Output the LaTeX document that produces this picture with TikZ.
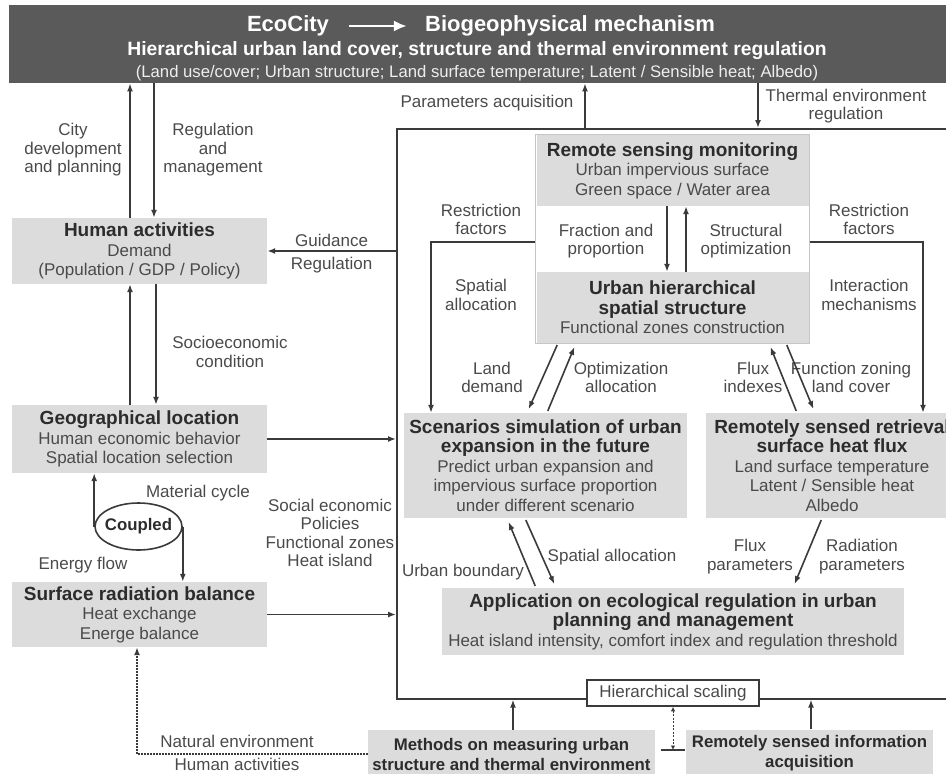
\documentclass[tikz,border=0pt]{standalone}
\usepackage{fontspec}
\setmainfont{Liberation Sans}
\usepackage{tikz}
\usetikzlibrary{arrows.meta,shapes.geometric,fit,calc}
\definecolor{ecoDark}{HTML}{5A5A5A}
\definecolor{ecoFill}{HTML}{DCDCDC}
\definecolor{ecoInk}{HTML}{2C2C2C}
\definecolor{ecoSoft}{HTML}{4A4A4A}
\definecolor{ecoLine}{HTML}{3A3A3A}
\definecolor{ecoEdge}{HTML}{C6C6C6}
\newcommand\ecoHead{\fontsize{19}{22}\selectfont\bfseries\color{ecoInk}}
\newcommand\ecoBody{\fontsize{17}{19.5}\selectfont\mdseries\color{ecoSoft}}
\newcommand\ecoFoot{\fontsize{16.8}{20}\selectfont\bfseries\color{ecoInk}}
\tikzset{
  ecoBox/.style={
    fill=ecoFill,
    draw=none,
    align=center,
    inner sep=0pt,
    font=\ecoBody
  },
  ecoLabel/.style={
    align=center,
    inner sep=1pt,
    text=ecoSoft,
    font=\fontsize{17}{18.5}\selectfont
  },
  ecoBanner/.style={
    text=white,
    inner sep=0pt,
    font=\fontsize{19.3}{21}\selectfont\bfseries
  },
  ecoArrow/.style={
    -{Latex[length=8pt,width=6pt]},
    line width=1.6pt,
    draw=ecoLine
  },
  ecoDiag/.style={
    ecoArrow,
    shorten <=2pt,
    shorten >=4pt
  },
  ecoDotted/.style={
    -{Latex[length=8pt,width=6pt]},
    line width=2.4pt,
    draw=ecoLine,
    dash pattern=on 1.5pt off 1.5pt
  },
  ecoScale/.style={
    {Latex[length=4.5pt,width=4.5pt]}-{Latex[length=4.5pt,width=4.5pt]},
    line width=1pt,
    draw=ecoLine,
    dash pattern=on 2pt off 1.5pt
  },
  ecoBannerArrow/.style={
    -{Latex[length=13pt,width=11pt]},
    line width=2.6pt,
    draw=white
  }
}

\begin{document}
\begin{tikzpicture}[x=1pt,y=-1pt]
  \useasboundingbox (0,0) rectangle (946,774);

  \node[fill=ecoDark, minimum width=960pt, minimum height=78pt, inner sep=0pt, anchor=north west] (banner) at (9,5) {};
  \node[ecoBanner, font=\fontsize{22}{24}\selectfont\bfseries] (ecoCity) at (288,26) {EcoCity};
  \node[ecoBanner, font=\fontsize{22}{24}\selectfont\bfseries] (bioMech) at (570,26) {Biogeophysical mechanism};
  \node[ecoBanner] (bannerSub) at (477,51) {Hierarchical urban land cover, structure and thermal environment regulation};
  \node[ecoBanner, font=\fontsize{16.7}{18}\selectfont, text=white!90!ecoDark] (bannerNote) at (477,73) {(Land use/cover; Urban structure; Land surface temperature; Latent / Sensible heat; Albedo)};

  \node[draw=ecoLine, line width=1.6pt, minimum width=580pt, minimum height=570pt, inner sep=0pt, anchor=north west] (frame) at (396,128) {};

  \node[ecoBox, minimum width=255pt, minimum height=66pt] (human) at (139.5,251) {{\ecoHead Human activities}\\Demand\\(Population / GDP / Policy)};
  \node[ecoBox, minimum width=255pt, minimum height=68pt] (geo) at (139.5,439) {{\ecoHead Geographical location}\\Human economic behavior\\Spatial location selection};
  \node[ecoBox, minimum width=255pt, minimum height=65pt] (surface) at (139.5,614.5) {{\ecoHead Surface radiation balance}\\Heat exchange\\Energe balance};
  \node[ellipse, draw=ecoLine, line width=1.6pt, minimum width=87pt, minimum height=47pt, inner xsep=-6pt, inner ysep=0pt, font=\ecoFoot] (coupled) at (138.5,526.5) {Coupled};

  \node[ecoBox, minimum width=272pt, minimum height=71pt] (rsm) at (672.5,170.5) {{\ecoHead Remote sensing monitoring}\\Urban impervious surface\\Green space / Water area};
  \node[ecoBox, minimum width=272pt, minimum height=71pt] (uhs) at (672.5,307.5) {{\ecoHead Urban hierarchical}\\{\ecoHead spatial structure}\\Functional zones construction};
  \node[fit=(rsm)(uhs), draw=ecoEdge, line width=1pt, inner sep=0.5pt] (rsmFrame) {};

  \node[ecoBox, minimum width=283pt, minimum height=105pt] (scen) at (545.5,465.5) {{\ecoHead Scenarios simulation of urban}\\{\ecoHead expansion in the future}\\Predict urban expansion and\\impervious surface proportion\\under different scenario};
  \node[ecoBox, minimum width=252pt, minimum height=105pt] (retr) at (832,465.5) {{\ecoHead Remotely sensed retrieval}\\{\ecoHead surface heat flux}\\Land surface temperature\\Latent / Sensible heat\\Albedo};
  \node[ecoBox, minimum width=462pt, minimum height=67pt] (app) at (673,621.5) {{\ecoHead Application on ecological regulation in urban}\\{\ecoHead planning and management}\\Heat island intensity, comfort index and regulation threshold};

  \node[draw=ecoLine, fill=white, line width=1.6pt, minimum width=172pt, minimum height=26pt, inner sep=0pt, text=ecoSoft, font=\fontsize{17}{19}\selectfont] (scaling) at (673,693) {Hierarchical scaling};
  \node[ecoBox, minimum width=287pt, minimum height=48pt, font=\ecoFoot] (methods) at (511.5,754) {Methods on measuring urban\\structure and thermal environment};
  \node[ecoBox, minimum width=247pt, minimum height=48pt, font=\ecoFoot] (rinfo) at (809.5,753.5) {Remotely sensed information\\acquisition};
  \coordinate (tbar) at (673,750);

  \node[ecoLabel] (cityLbl) at (73,150) {City\\development\\and planning};
  \node[ecoLabel] (mgmtLbl) at (213,150) {Regulation\\and\\management};
  \node[ecoLabel] (socioLbl) at (230,352) {Socioeconomic\\condition};
  \node[ecoLabel] (materialLbl) at (198,493) {Material cycle};
  \node[ecoLabel] (energyLbl) at (83,565) {Energy flow};
  \node[ecoLabel] (socialLbl) at (330,533) {Social economic\\Policies\\Functional zones\\Heat island};
  \node[ecoLabel] (naturalLbl) at (237,741) {Natural environment};
  \node[ecoLabel] (activLbl) at (237,764) {Human activities};
  \node[ecoLabel] (paramLbl) at (487,103) {Parameters acquisition};
  \node[ecoLabel] (thermalLbl) at (846,106) {Thermal environment\\regulation};
  \node[ecoLabel] (restrLLbl) at (481,219.5) {Restriction\\factors};
  \node[ecoLabel] (restrRLbl) at (869,219.5) {Restriction\\factors};
  \node[ecoLabel] (fracLbl) at (606,241) {Fraction and\\proportion};
  \node[ecoLabel] (structLbl) at (746,241) {Structural\\optimization};
  \node[ecoLabel] (spatialLbl) at (481,295) {Spatial\\allocation};
  \node[ecoLabel] (interLbl) at (869,295) {Interaction\\mechanisms};
  \node[ecoLabel] (landLbl) at (492,377.5) {Land\\demand};
  \node[ecoLabel] (optLbl) at (621,377.5) {Optimization\\allocation};
  \node[ecoLabel] (fluxIdxLbl) at (753,377.5) {Flux\\indexes};
  \node[ecoLabel] (zoningLbl) at (851,377.5) {Function zoning\\land cover};
  \node[ecoLabel] (boundLbl) at (463,572) {Urban boundary};
  \node[ecoLabel] (allocLbl) at (612,557) {Spatial allocation};
  \node[ecoLabel] (fluxParLbl) at (750,556.5) {Flux\\parameters};
  \node[ecoLabel] (radParLbl) at (862,556.5) {Radiation\\parameters};

  \draw[ecoBannerArrow, shorten <=20pt, shorten >=18pt] (ecoCity) -- (bioMech);

  \draw[ecoArrow] (human.north -| 130,0) -- (banner.south -| 130,0);
  \draw[ecoArrow] (banner.south -| 154,0) -- (human.north -| 154,0);
  \draw[ecoArrow] (geo.north -| 130,0) -- (human.south -| 130,0);
  \draw[ecoArrow] (human.south -| 156,0) -- (geo.north -| 156,0);
  \draw[ecoArrow] (human.east -| frame.west) -- (human.east)
    node[ecoLabel, midway, above=3pt] (guideLbl) {Guidance}
    node[ecoLabel, midway, below=4pt] (regLbl) {Regulation};
  \draw[ecoArrow] (geo.east) -- (geo.east -| frame.west);
  \draw[ecoArrow] (surface.east) -- (surface.east -| frame.west);
  \draw[ecoArrow] (coupled.west) -- (coupled.west |- geo.south);
  \draw[ecoArrow] (coupled.east) -- (coupled.east |- surface.north);
  \draw[ecoDotted] (methods.west) -| ([xshift=-2.5pt]surface.south);

  \draw[ecoArrow] (frame.north -| 585,0) -- (banner.south -| 585,0);
  \draw[ecoArrow] (banner.south -| 758,0) -- (frame.north -| 758,0);
  \draw[ecoArrow] (rsm.south -| 667,0) -- (uhs.north -| 667,0);
  \draw[ecoArrow] (uhs.north -| 686,0) -- (rsm.south -| 686,0);
  \draw[ecoArrow] (rsmFrame.west |- 0,242) -| (431,0 |- scen.north);
  \draw[ecoArrow] (rsmFrame.east |- 0,242) -| (923,0 |- retr.north);

  \draw[ecoDiag] (uhs.south -| 558,0) -- (scen.north -| 527,0);
  \draw[ecoDiag] (scen.north -| 547,0) -- (uhs.south -| 576,0);
  \draw[ecoDiag] (retr.north -| 797,0) -- (uhs.south -| 769,0);
  \draw[ecoDiag] (uhs.south -| 786,0) -- (retr.north -| 815,0);
  \draw[ecoDiag] (app.north -| 536,0) -- (scen.south -| 507,0);
  \draw[ecoDiag] (scen.south -| 525,0) -- (app.north -| 556,0);
  \draw[ecoDiag] (retr.south -| 822,0) -- (app.north -| 793,0);

  \draw[ecoArrow] (methods.north -| 513,0) -- (frame.south -| 513,0);
  \draw[ecoArrow] (rinfo.north -| 811,0) -- (frame.south -| 811,0);
  \draw[ecoScale] (scaling.south) -- (tbar);
  \draw[ecoLine, line width=1.6pt] ([xshift=-12pt]tbar) -- ([xshift=12pt]tbar);
\end{tikzpicture}
\end{document}
